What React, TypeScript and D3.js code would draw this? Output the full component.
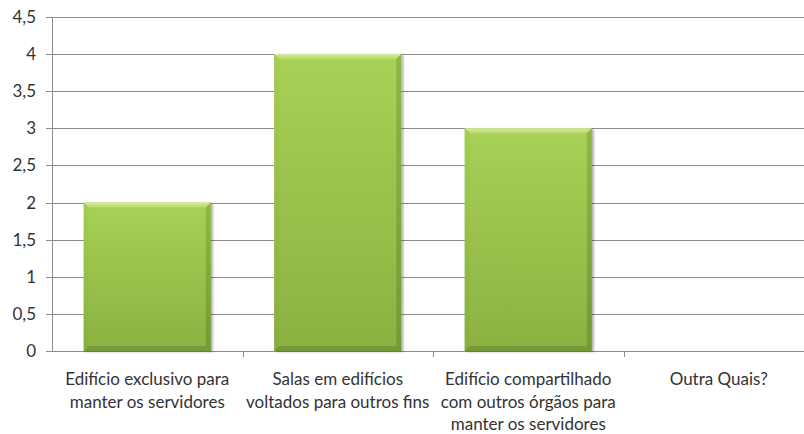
import React from "react";
import * as d3 from "d3";

const categories = ["c1", "c2", "c3", "c4"];
const categoryLabels: string[][] = [
  ["Edifício exclusivo para", "manter os servidores"],
  ["Salas em edifícios", "voltados para outros fins"],
  ["Edifício compartilhado", "com outros órgãos para", "manter os servidores"],
  ["Outra Quais?"],
];
const values = [2, 4, 3, 0];
const yTicks = [0, 0.5, 1, 1.5, 2, 2.5, 3, 3.5, 4, 4.5];

const W = 804, H = 434;
const left = 52, right = 814, top = 17, bottom = 351;
const font = "Lato, 'Open Sans', sans-serif";

export default function App() {
  const x = d3.scaleBand<string>().domain(categories).range([left, right]).paddingInner(1 / 3).paddingOuter(1 / 6);
  const band = d3.scaleBand<string>().domain(categories).range([left, right]);
  const y = d3.scaleLinear().domain([0, 4.5]).range([bottom, top]);
  const fmt = (v: number) => String(v).replace(".", ",");
  const bev = 5;
  return (
    <svg width={W} height={H} style={{ position: "absolute", left: 0, top: 0, background: "#fff" }}>
      <defs>
        <linearGradient id="face" x1="0" y1="0" x2="0" y2="1">
          <stop offset="0" stopColor="#a8d156" />
          <stop offset="1" stopColor="#8bb241" />
        </linearGradient>
        <linearGradient id="topEdge" x1="0" y1="0" x2="0" y2="1">
          <stop offset="0" stopColor="#d4eba0" />
          <stop offset="1" stopColor="#b3da66" />
        </linearGradient>
        <linearGradient id="leftEdge" x1="0" y1="0" x2="0" y2="1">
          <stop offset="0" stopColor="#a4cd54" />
          <stop offset="1" stopColor="#88ae40" />
        </linearGradient>
        <linearGradient id="rightEdge" x1="0" y1="0" x2="0" y2="1">
          <stop offset="0" stopColor="#8fb846" />
          <stop offset="1" stopColor="#739a33" />
        </linearGradient>
        <filter id="sh" x="-10%" y="-10%" width="130%" height="130%">
          <feGaussianBlur in="SourceAlpha" stdDeviation="1.2" />
          <feOffset dx="1.5" dy="1" />
          <feComponentTransfer><feFuncA type="linear" slope="0.3" /></feComponentTransfer>
          <feMerge><feMergeNode /><feMergeNode in="SourceGraphic" /></feMerge>
        </filter>
      </defs>
      {yTicks.map((t) => (
        <g key={t}>
          <line x1={left - 6} x2={W} y1={Math.round(y(t)) + 0.5} y2={Math.round(y(t)) + 0.5} stroke="#8c8c8c" strokeWidth={1} />
          <text x={36} y={y(t)} dy="0.35em" textAnchor="end" fontFamily={font} fontSize={17} fill="#333">{fmt(t)}</text>
        </g>
      ))}
      <line x1={left + 0.5} x2={left + 0.5} y1={top} y2={bottom + 1} stroke="#8c8c8c" />
      {categories.slice(1).map((c) => (
        <line key={c} x1={Math.round(band(c)!) + 0.5} x2={Math.round(band(c)!) + 0.5} y1={bottom} y2={bottom + 6} stroke="#8c8c8c" />
      ))}
      {categories.map((c, i) => {
        const v = values[i];
        if (v <= 0) return null;
        const x0 = x(c)!, w = x.bandwidth();
        const y0 = y(v), h = bottom - y0;
        const x1 = x0 + w, y1 = bottom;
        return (
          <g key={c} filter="url(#sh)">
            <rect x={x0} y={y0} width={w} height={h} fill="url(#face)" />
            <polygon points={`${x0},${y0} ${x1},${y0} ${x1 - bev},${y0 + bev} ${x0 + bev},${y0 + bev}`} fill="url(#topEdge)" />
            <polygon points={`${x0},${y0} ${x0 + bev},${y0 + bev} ${x0 + bev},${y1 - bev} ${x0},${y1}`} fill="url(#leftEdge)" />
            <polygon points={`${x1},${y0} ${x1 - bev},${y0 + bev} ${x1 - bev},${y1 - bev} ${x1},${y1}`} fill="url(#rightEdge)" />
            <polygon points={`${x0},${y1} ${x0 + bev},${y1 - bev} ${x1 - bev},${y1 - bev} ${x1},${y1}`} fill="#74993a" />
          </g>
        );
      })}
      {categories.map((c, i) => (
        <text key={c} x={band(c)! + band.bandwidth() / 2} y={385} textAnchor="middle" fontFamily={font} fontSize={17} fill="#333">
          {categoryLabels[i].map((l, j) => (
            <tspan key={j} x={band(c)! + band.bandwidth() / 2} dy={j === 0 ? 0 : 22.5}>{l}</tspan>
          ))}
        </text>
      ))}
    </svg>
  );
}
